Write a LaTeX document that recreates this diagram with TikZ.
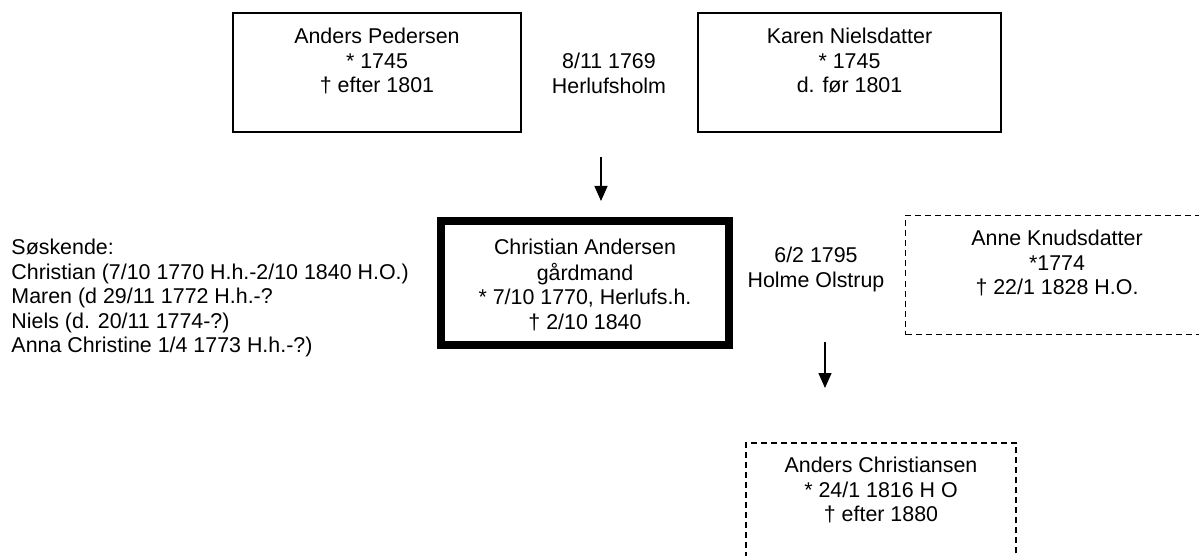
\documentclass[tikz,border=0pt]{standalone}
\usepackage{fontspec}
\setmainfont{Liberation Sans}
\usetikzlibrary{arrows.meta}
\tikzset{
  txt/.style={font=\fontsize{21.4}{24.5}\selectfont, inner sep=0pt, outer sep=0pt, align=center, anchor=north},
  plainbox/.style={draw, line width=1.7pt, inner sep=0pt, minimum width=#1},
  thickbox/.style={draw, line width=8pt, inner sep=0pt},
  dashbox/.style={draw, line width=1.6pt, dash pattern=on 6pt off 4pt, inner sep=0pt},
  arr/.style={line width=1.4pt, -{Triangle[length=15pt,width=13pt]}}
}
\begin{document}
\begin{tikzpicture}[x=1pt,y=-1pt]
\useasboundingbox (0,0) rectangle (1199,556);
% boxes
\node[plainbox=288.3pt, minimum height=119.3pt] (pedbox) at (377,72.5) {};
\node[plainbox=303.3pt, minimum height=119.3pt] (karbox) at (849.5,72.5) {};
\node[thickbox, minimum width=288pt, minimum height=123.5pt] (chrbox) at (585,282.75) {};
\node[dashbox, minimum width=303pt, minimum height=119pt] (annbox) at (1057,275) {};
\node[dashbox, minimum width=270.5pt, minimum height=130pt] (andbox) at (881,507.75) {};
% texts
\node[txt] (pedtxt) at (377,26.45) {\strut Anders Pedersen\\\strut * 1745\\\strut † efter 1801};
\node[txt] (kartxt) at (849.5,26.45) {\strut Karen Nielsdatter\\\strut * 1745\\\strut d. før 1801};
\node[txt] (mar1) at (609,51.45) {\strut 8/11 1769\\\strut Herlufsholm};
\node[txt] (chrtxt) at (585,237.45) {\strut Christian Andersen\\\strut gårdmand\\\strut * 7/10 1770, Herlufs.h.\\\strut † 2/10 1840};
\node[txt] (mar2) at (816,245.45) {\strut 6/2 1795\\\strut Holme Olstrup};
\node[txt] (anntxt) at (1057,228.45) {\strut Anne Knudsdatter\\\strut *1774\\\strut † 22/1 1828 H.O.};
\node[txt] (andtxt) at (881,455.45) {\strut Anders Christiansen\\\strut * 24/1 1816 H O\\\strut † efter 1880};
\node[txt, align=left, anchor=north west] (sibs) at (11.5,237.45) {\strut Søskende:\\\strut Christian (7/10 1770 H.h.-2/10 1840 H.O.)\\\strut Maren (d 29/11 1772 H.h.-?\\\strut Niels (d. 20/11 1774-?)\\\strut Anna Christine 1/4 1773 H.h.-?)};
% arrows
\coordinate (a1s) at (601,157);
\coordinate (a1e) at (601,201);
\coordinate (a2s) at (825,342);
\coordinate (a2e) at (825,388);
\draw[arr] (a1s) -- (a1e);
\draw[arr] (a2s) -- (a2e);
\end{tikzpicture}
\end{document}
